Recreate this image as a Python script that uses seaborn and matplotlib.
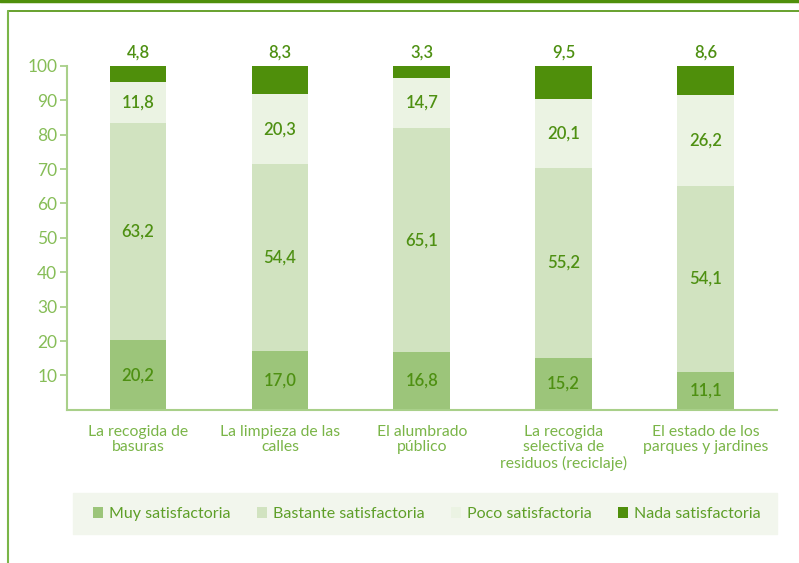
import numpy as np
import pandas as pd
import matplotlib
matplotlib.use("Agg")
import matplotlib.pyplot as plt
from matplotlib.lines import Line2D
from matplotlib.patches import Patch, Rectangle
import seaborn as sns

categories = [
    "La recogida de\nbasuras",
    "La limpieza de las\ncalles",
    "El alumbrado\npúblico",
    "La recogida\nselectiva de\nresiduos (reciclaje)",
    "El estado de los\nparques y jardines",
]
muy = [20.2, 17.0, 16.8, 15.2, 11.1]
bastante = [63.2, 54.4, 65.1, 55.2, 54.1]
poco = [11.8, 20.3, 14.7, 20.1, 26.2]
nada = [4.8, 8.3, 3.3, 9.5, 8.6]
series_names = ["Muy satisfactoria", "Bastante satisfactoria",
                "Poco satisfactoria", "Nada satisfactoria"]
yticks = [10, 20, 30, 40, 50, 60, 70, 80, 90, 100]

colors = ["#9cc57a", "#d1e3c0", "#ebf3e3", "#4f8f0b"]
label_col = "#4e9012"
axis_col = "#a9d08a"
tick_txt = "#86bd57"

sns.set_theme(style="white")
plt.rcParams["font.family"] = ["Lato", "DejaVu Sans"]

df = pd.DataFrame({"cat": categories, "muy": muy, "bastante": bastante,
                   "poco": poco, "nada": nada})
layers = ["muy", "bastante", "poco", "nada"]
cum = df[layers].cumsum(axis=1)

fig = plt.figure(figsize=(7.99, 5.63), dpi=100)
ax = fig.add_axes([0.084, 0.272, 0.888, 0.611])

# stacked bars: paint cumulative totals from the top layer down
for i in range(3, -1, -1):
    sns.barplot(x=df["cat"], y=cum[layers[i]], color=colors[i], width=0.4,
                saturation=1, ax=ax, order=categories, edgecolor="none", linewidth=0)

# value labels
for j in range(len(categories)):
    bottom = 0
    for i, key in enumerate(layers):
        v = df[key][j]
        txt = f"{v:.1f}".replace(".", ",")
        if key == "nada":
            ax.text(j, 100 + 1.5, txt, ha="center", va="bottom", color=label_col,
                    fontsize=12, fontweight="semibold")
        else:
            ax.text(j, bottom + v / 2, txt, ha="center", va="center", color=label_col,
                    fontsize=12, fontweight="semibold")
        bottom += v

ax.set_ylim(0, 100)
ax.set_xlim(-0.5, 4.5)
ax.set_yticks(yticks)
ax.set_yticklabels([str(t) for t in yticks], color=tick_txt, fontsize=12.5)
ax.set_xticks(range(len(categories)))
ax.set_xticklabels(categories, color="#7ab548", fontsize=11.3, linespacing=1.1)
ax.set_xticks(np.arange(-0.5, 5, 1), minor=True)
ax.tick_params(axis="x", which="major", length=0, pad=11)
ax.tick_params(axis="x", which="minor", length=6, width=1.3, color=axis_col, direction="out")
ax.tick_params(axis="y", length=5, width=1.3, color=axis_col, direction="out", left=True, pad=2)
ax.set_xlabel("")
ax.set_ylabel("")
for s in ["top", "right"]:
    ax.spines[s].set_visible(False)
for s in ["left", "bottom"]:
    ax.spines[s].set_color(axis_col)
    ax.spines[s].set_linewidth(1.5)

# legend strip
fig.patches.append(Rectangle((73 / 799, 1 - 534 / 563), 704 / 799, 41 / 563,
                             transform=fig.transFigure, color="#f2f6ed", zorder=0))
handles = [Patch(facecolor=c, edgecolor="none") for c in colors]
fig.legend(handles, series_names, loc="center", bbox_to_anchor=(0.534, 1 - 514 / 563),
           ncol=4, frameon=False, fontsize=11.5, handlelength=0.65, handleheight=0.65,
           handletextpad=0.35, columnspacing=1.65, labelcolor="#5e9f28")

# outer frame
fig.add_artist(Line2D([0, 1], [1 - 1 / 563, 1 - 1 / 563], color="#4f8f0b", lw=2.5))
fig.add_artist(Line2D([8 / 799, 1], [1 - 11 / 563, 1 - 11 / 563], color="#5c9a1e", lw=1.3))
fig.add_artist(Line2D([8 / 799, 8 / 799], [0, 1 - 11 / 563], color="#7ab548", lw=1.5))

fig.savefig("out.png", dpi=100)
plt.close(fig)
